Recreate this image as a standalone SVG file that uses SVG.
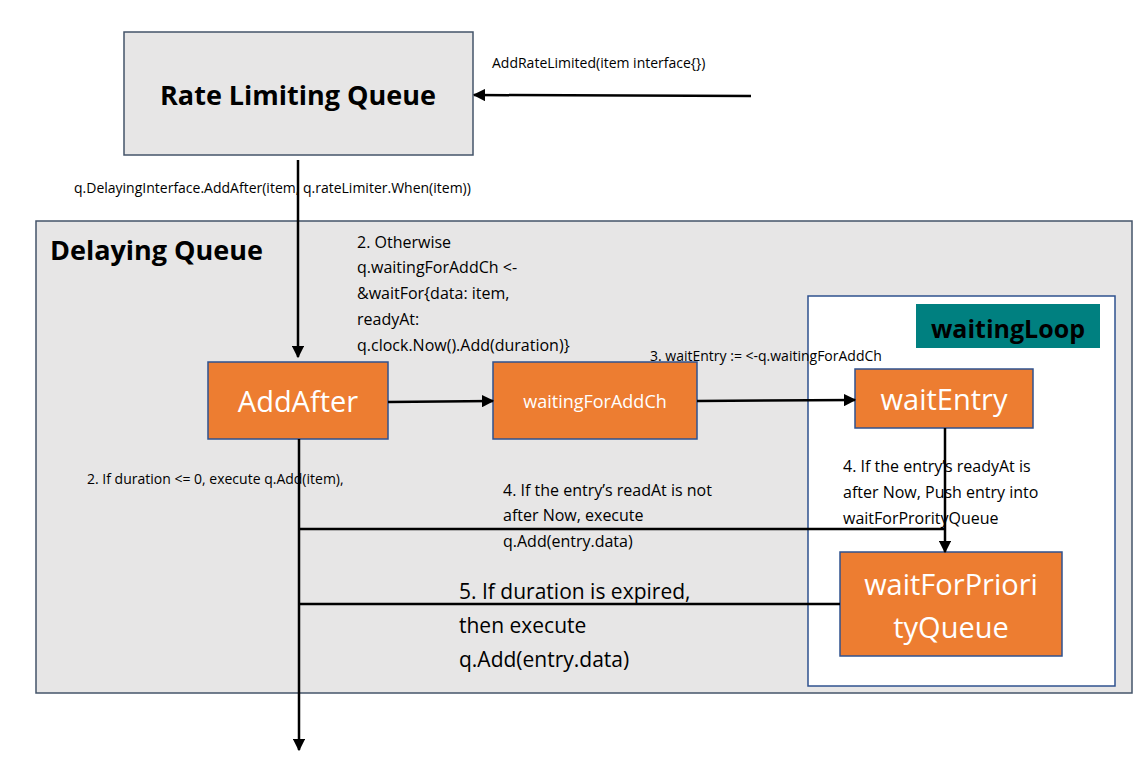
<svg xmlns="http://www.w3.org/2000/svg" width="1148" height="766" viewBox="0 0 1148 766">
<style>
text{font-family:"Open Sans","Liberation Sans",sans-serif;fill:#000}
.grey{fill:#e7e6e6;stroke:#44546a;stroke-width:1.5}
.or{fill:#ed7d31;stroke:#2f528f;stroke-width:1.5}
.w{fill:#fff}
.ln{stroke:#000;stroke-width:2.5;fill:none}
.s{font-size:14px}
.m{font-size:16px}
.b{font-weight:bold}
</style>
<defs><marker id="a" viewBox="0 0 10 10" refX="9" refY="5" markerWidth="5" markerHeight="5" orient="auto"><path d="M0,0L10,5L0,10z" fill="#000"/></marker></defs>
<rect width="1148" height="766" fill="#fff"/>
<g id="rlq"><rect class="grey" x="124" y="32" width="349" height="123"/><text x="298" y="105" font-size="27" class="b" text-anchor="middle">Rate Limiting Queue</text></g>
<g id="dq"><rect class="grey" x="36" y="221" width="1096" height="472"/><text x="50" y="260" font-size="27" class="b">Delaying Queue</text></g>
<g id="loop"><rect x="808" y="296" width="307" height="390" fill="#fff" stroke="#2f528f" stroke-width="1.5"/><rect x="916" y="304" width="184" height="44" fill="#008080"/><text x="1008" y="338" font-size="25" class="b" text-anchor="middle">waitingLoop</text></g>
<g id="addafter"><rect class="or" x="208" y="362" width="180" height="77"/><text class="w" x="298" y="412" font-size="29" text-anchor="middle">AddAfter</text></g>
<g id="wfac"><rect class="or" x="493" y="362" width="204" height="77"/><text class="w" x="595" y="408" font-size="18" text-anchor="middle">waitingForAddCh</text></g>
<g id="we"><rect class="or" x="855" y="369" width="178" height="59"/><text class="w" x="944" y="410" font-size="29" text-anchor="middle">waitEntry</text></g>
<g id="wfpq"><rect class="or" x="840" y="552" width="222" height="104"/><text class="w" x="951" y="595" font-size="29" text-anchor="middle">waitForPriori</text><text class="w" x="951" y="638" font-size="29" text-anchor="middle">tyQueue</text></g>
<g id="connectors">
<line class="ln" x1="751" y1="96" x2="474" y2="95" marker-end="url(#a)"/>
<line class="ln" x1="298" y1="160" x2="298" y2="357" marker-end="url(#a)"/>
<line class="ln" x1="388" y1="402" x2="493" y2="401" marker-end="url(#a)"/>
<line class="ln" x1="697" y1="401" x2="855" y2="400" marker-end="url(#a)"/>
<line class="ln" x1="945" y1="428" x2="945" y2="552" marker-end="url(#a)"/>
<line class="ln" x1="945" y1="529" x2="299" y2="529"/>
<line class="ln" x1="840" y1="604" x2="299" y2="604"/>
<line class="ln" x1="299" y1="439" x2="299" y2="750" marker-end="url(#a)"/>
</g>
<g id="labels">
<text class="s" x="492" y="68">AddRateLimited(item interface{})</text>
<text class="s" x="74" y="193">q.DelayingInterface.AddAfter(item, q.rateLimiter.When(item))</text>
<text class="m" x="357" y="248">2. Otherwise</text>
<text class="m" x="357" y="273">q.waitingForAddCh &lt;-</text>
<text class="m" x="357" y="299">&amp;waitFor{data: item,</text>
<text class="m" x="357" y="325"> readyAt:</text>
<text class="m" x="357" y="351">q.clock.Now().Add(duration)}</text>
<text class="s" x="650" y="361">3. waitEntry := &lt;-q.waitingForAddCh</text>
<text class="s" x="87" y="484">2. If duration &lt;= 0, execute q.Add(item),</text>
<text class="m" x="503" y="496">4. If the entry’s readAt is not</text>
<text class="m" x="503" y="521">after Now, execute</text>
<text class="m" x="503" y="547">q.Add(entry.data)</text>
<text class="m" x="843" y="472">4. If the entry’s readyAt is</text>
<text class="m" x="843" y="498">after Now, Push entry into</text>
<text class="m" x="843" y="524">waitForProrityQueue</text>
<text x="459" y="599" font-size="21">5. If duration is expired,</text>
<text x="459" y="633" font-size="21">then execute</text>
<text x="459" y="667" font-size="21">q.Add(entry.data)</text>
</g>
</svg>
